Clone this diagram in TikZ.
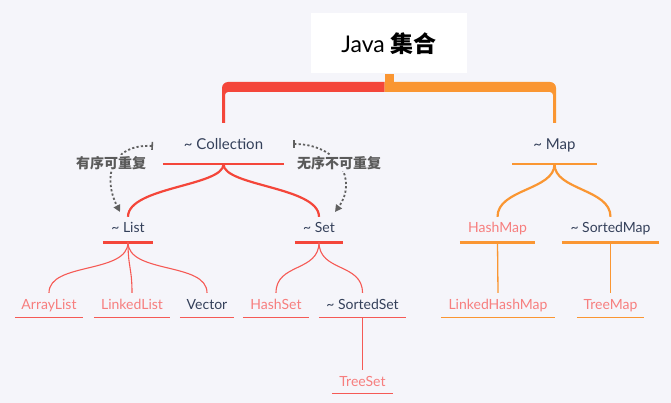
\documentclass[tikz,border=0pt]{standalone}
\usepackage{fontspec}
\setmainfont{Lato}
\newfontfamily\cjk{Noto Sans CJK SC}
\usetikzlibrary{arrows.meta,calc}
\definecolor{bg}{HTML}{F5F5FA}
\definecolor{cred}{HTML}{F4463A}
\definecolor{lred}{HTML}{F55A55}
\definecolor{corange}{HTML}{FA9632}
\definecolor{salmon}{HTML}{F77E7E}
\definecolor{navy}{HTML}{34405A}
\definecolor{grayt}{HTML}{5A5A5A}
\definecolor{graya}{HTML}{606060}
\tikzset{
  basenode/.style={inner sep=0pt, anchor=base},
  topnode/.style={basenode, font=\fontsize{15}{18}\selectfont, text=navy, text height=27pt, text depth=14pt},
  midnode/.style={basenode, font=\fontsize{14}{17}\selectfont, text height=16pt, text depth=9pt},
  leafnode/.style={basenode, font=\fontsize{14}{17}\selectfont, text height=16pt, text depth=8pt},
  notenode/.style={inner sep=1pt, fill=bg, text=grayt, font=\fontsize{14}{17}\selectfont\cjk\bfseries},
  redline/.style={draw=cred, line width=2.2pt},
  orangeline/.style={draw=corange, line width=2.2pt},
  thinred/.style={draw=lred, line width=1.1pt},
  thinorange/.style={draw=corange, line width=1.3pt},
  dasharrow/.style={draw=graya, line width=1.8pt, dash pattern=on 2.2pt off 2.2pt,
     {Bar[width=8pt,line width=1.6pt]}-{Triangle[length=7pt,width=7pt]}},
}
\begin{document}
\begin{tikzpicture}[x=1pt,y=-1pt]
\fill[bg] (0,0) rectangle (671,403);
\useasboundingbox (0,0) rectangle (671,403);

% title
\node[fill=white, minimum width=156pt, minimum height=60pt, inner sep=0pt] (title) at (389,43.5)
  {\fontsize{23}{26}\selectfont Java \cjk\bfseries 集合};

% top level nodes
\node[topnode, minimum width=121pt] (collection) at (223.5,150) {\textasciitilde\ Collection};
\node[topnode, minimum width=84pt] (map) at (554.5,150) {\textasciitilde\ Map};

% brace from title
\fill[corange] ($(title.south)+(-4.5,0)$) rectangle ($(title.south)+(4.5,9)$);
\fill[cred] (222,123) [rounded corners=6pt] -- (222,82) [sharp corners] -- (384.5,82) -- (384.5,92)
   [rounded corners=3pt] -- (225,92) [sharp corners] -- (225,123) -- cycle;
\fill[corange] (556,123) [rounded corners=6pt] -- (556,82) [sharp corners] -- (384.5,82) -- (384.5,92)
   [rounded corners=3pt] -- (553,92) [sharp corners] -- (553,123) -- cycle;

% mid nodes
\node[midnode, minimum width=50pt, text=navy] (list) at (128,233) {\textasciitilde\ List};
\node[midnode, minimum width=48pt, text=navy] (set) at (319,233) {\textasciitilde\ Set};
\node[midnode, minimum width=75pt, text=salmon] (hashmap) at (497.5,233) {HashMap};
\node[midnode, minimum width=97pt, text=navy] (sortedmap) at (610.5,233) {\textasciitilde\ SortedMap};

% leaves
\node[leafnode, minimum width=68pt, text=salmon] (arraylist) at (49,309) {ArrayList};
\node[leafnode, minimum width=76pt, text=salmon] (linkedlist) at (132,309) {LinkedList};
\node[leafnode, minimum width=54pt, text=navy] (vector) at (207,309) {Vector};
\node[leafnode, minimum width=66pt, text=salmon] (hashset) at (276,309) {HashSet};
\node[leafnode, minimum width=87pt, text=navy] (sortedset) at (362.5,309) {\textasciitilde\ SortedSet};
\node[leafnode, minimum width=114pt, text=salmon] (linkedhashmap) at (498,309) {LinkedHashMap};
\node[leafnode, minimum width=67pt, text=salmon] (treemap) at (610.5,309) {TreeMap};
\node[basenode, font=\fontsize{14}{17}\selectfont, text height=16pt, text depth=7pt, minimum width=61pt, text=salmon] (treeset) at (362.5,386) {TreeSet};

% underlines
\draw[redline] (collection.south west) -- (collection.south east);
\draw[orangeline] (map.south west) -- (map.south east);
\draw[redline, line width=2.6pt] (list.south west) -- (list.south east);
\draw[redline, line width=2.6pt] (set.south west) -- (set.south east);
\draw[orangeline, line width=2.6pt] (hashmap.south west) -- (hashmap.south east);
\draw[orangeline, line width=2.6pt] (sortedmap.south west) -- (sortedmap.south east);
\foreach \n in {arraylist,linkedlist,vector,hashset,sortedset,treeset}
  \draw[thinred] (\n.south west) -- (\n.south east);
\foreach \n in {linkedhashmap,treemap}
  \draw[thinorange] (\n.south west) -- (\n.south east);

% connectors
\draw[redline] (collection.south) .. controls +(0,22) and +(0,-30) .. (list.north);
\draw[redline] (collection.south) .. controls +(0,22) and +(0,-30) .. (set.north);
\draw[orangeline] (map.south) .. controls +(0,26) and +(0,-28) .. (hashmap.north);
\draw[orangeline] (map.south) .. controls +(0,26) and +(0,-28) .. (sortedmap.north);
\draw[thinred] (list.south) .. controls +(0,32) and +(0,-31) .. (arraylist.north);
\draw[thinred] (list.south) .. controls +(0,25) and +(0,-25) .. (linkedlist.north);
\draw[thinred] (list.south) .. controls +(0,32) and +(0,-31) .. (vector.north);
\draw[thinred] (set.south) .. controls +(0,30) and +(0,-30) .. (hashset.north);
\draw[thinred] (set.south) .. controls +(0,30) and +(0,-30) .. (sortedset.north);
\draw[thinred] (sortedset.south) -- (treeset.north);
\draw[thinorange] (hashmap.south) -- (linkedhashmap.north);
\draw[thinorange] (sortedmap.south) -- (treemap.north);

% dashed notes
\coordinate (ls) at (153,146);
\coordinate (le) at (120,212);
\coordinate (rs) at (293,144);
\coordinate (re) at (335,212);
\draw[dasharrow] (ls) .. controls (112,144) and (102,176) .. (le);
\draw[dasharrow] (rs) .. controls (338,144) and (358,180) .. (re);
\node[notenode] (ordered) at (111,163) {有序可重复};
\node[notenode] (unordered) at (339,163) {无序不可重复};
\end{tikzpicture}
\end{document}
